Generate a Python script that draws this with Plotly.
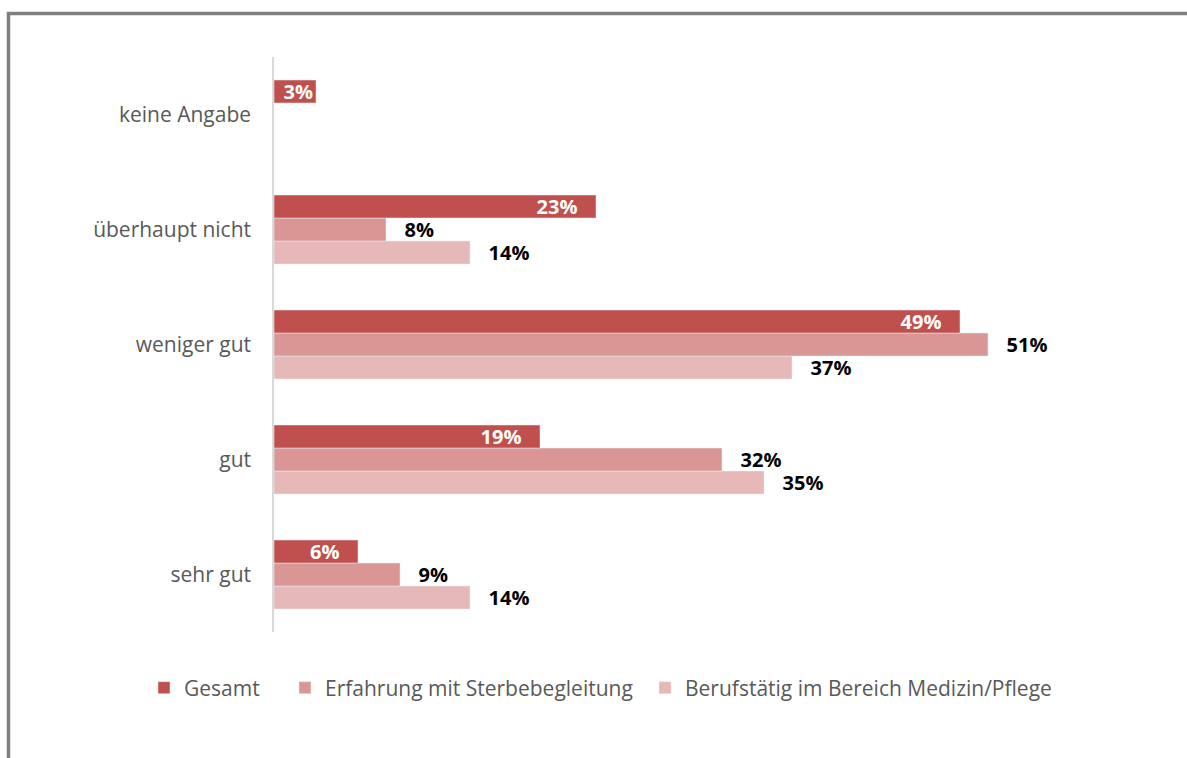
import plotly.graph_objects as go

# Antwortkategorien (von unten nach oben) und Anteile in Prozent
categories = ["sehr gut", "gut", "weniger gut", "überhaupt nicht", "keine Angabe"]
gesamt = [6, 19, 49, 23, 3]
erfahrung = [9, 32, 51, 8, None]
beruf = [14, 35, 37, 14, None]

series_names = ["Gesamt", "Erfahrung mit Sterbebegleitung", "Berufstätig im Bereich Medizin/Pflege"]
colors = ["#C0504D", "#DA9694", "#E6B8B7"]

FONT = "Open Sans"
TEXT_SIZE = 21
LABEL_SIZE = 20
GAP = "\u00a0\u00a0\u00a0"


def inside_labels(vals):
    out = []
    for v in vals:
        if v is None:
            out.append("")
        elif v >= 5:
            out.append(f"{v}%{GAP}")
        else:
            out.append(f"{v}%")
    return out


def outside_labels(vals):
    return ["" if v is None else f"{GAP}{v}%" for v in vals]


fig = go.Figure()

# plotly stacks grouped horizontal bars bottom-up, so the last trace sits on top
fig.add_trace(go.Bar(
    y=categories, x=beruf, orientation="h", name=series_names[2],
    marker=dict(color=colors[2]), legend="legend3",
    text=outside_labels(beruf), textposition="outside", constraintext="none",
    textfont=dict(family=FONT, size=LABEL_SIZE, color="#000000", weight="bold"),
    cliponaxis=False,
))
fig.add_trace(go.Bar(
    y=categories, x=erfahrung, orientation="h", name=series_names[1],
    marker=dict(color=colors[1]), legend="legend2",
    text=outside_labels(erfahrung), textposition="outside", constraintext="none",
    textfont=dict(family=FONT, size=LABEL_SIZE, color="#000000", weight="bold"),
    cliponaxis=False,
))
fig.add_trace(go.Bar(
    y=categories, x=gesamt, orientation="h", name=series_names[0],
    marker=dict(color=colors[0]), legend="legend",
    text=inside_labels(gesamt), textposition="inside", insidetextanchor="end",
    constraintext="none",
    textfont=dict(family=FONT, size=LABEL_SIZE, color="#FFFFFF", weight="bold"),
    cliponaxis=False,
))

W, H = 1187, 758
ml, mr, mt, mb = 274, 73, 57, 126
pw, ph = W - ml - mr, H - mt - mb


def px_x(p):
    return (p - ml) / pw


def px_y(p):
    return (H - mb - p) / ph


def legend_at(left_px):
    return dict(
        orientation="h",
        xref="container", yref="container",
        x=left_px / W, xanchor="left",
        y=(H - 688) / H, yanchor="middle",
        font=dict(family=FONT, size=TEXT_SIZE, color="#595959"),
        itemclick=False, itemdoubleclick=False,
    )


fig.update_layout(
    width=W, height=H,
    margin=dict(l=ml, r=mr, t=mt, b=mb, pad=0, autoexpand=False),
    paper_bgcolor="white", plot_bgcolor="white",
    barmode="group", bargap=0.4, bargroupgap=0,
    font=dict(family=FONT, color="#595959", size=TEXT_SIZE),
    xaxis=dict(range=[0, 60], visible=False, fixedrange=True, automargin=False),
    yaxis=dict(
        type="category", categoryorder="array", categoryarray=categories,
        showline=True, linecolor="#D9D9D9", linewidth=1.5,
        ticks="", showgrid=False, zeroline=False, automargin=False,
        tickfont=dict(family=FONT, size=TEXT_SIZE, color="#595959"),
        ticklabelstandoff=17, fixedrange=True,
    ),
    legend=legend_at(144),
    legend2=legend_at(285),
    legend3=legend_at(645),
    showlegend=True,
    shapes=[
        # Rahmen um die Grafik
        dict(type="rect", xref="paper", yref="paper",
             x0=px_x(8.5), x1=px_x(W + 20), y0=px_y(H + 20), y1=px_y(13.5),
             line=dict(color="#808080", width=3.5), fillcolor="rgba(0,0,0,0)",
             layer="below"),
    ],
)

fig.write_html("out.html")
